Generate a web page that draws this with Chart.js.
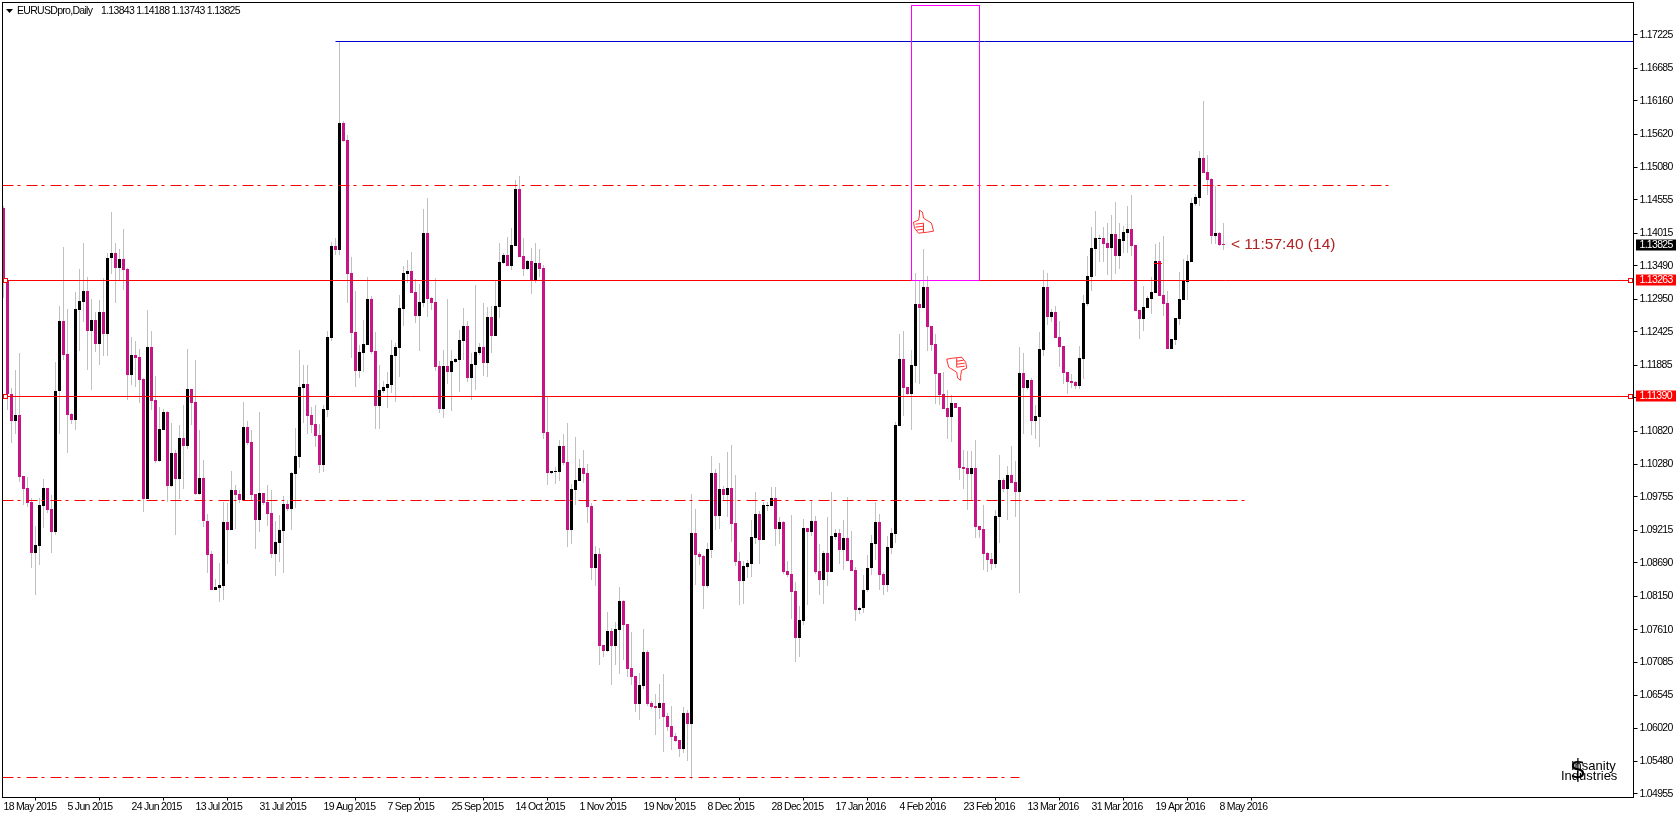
<!DOCTYPE html>
<html>
<head>
<meta charset="utf-8">
<title>EURUSDpro,Daily</title>
<script src="https://cdn.jsdelivr.net/npm/chart.js@4"></script>
<style>
html, body { margin: 0; padding: 0; background: #fff; overflow: hidden; }
canvas { display: block; }
</style>
</head>
<body>
<canvas id="grafico" width="1676" height="815"></canvas>
<script>
const opens = [
1.1442,1.1324,1.1142,1.1099,1.1108,1.1009,1.0990,1.0967,1.0885,1.0897,
1.0961,1.0990,1.0956,1.0919,1.1146,1.1260,1.1206,1.1110,1.1100,1.1278,
1.1291,1.1308,1.1244,1.1262,1.1223,1.1274,1.1239,1.1361,1.1370,1.1346,
1.1360,1.1344,1.1173,1.1205,1.1202,1.1166,1.0972,1.1218,1.1132,1.1034,
1.1084,1.1113,1.0994,1.1047,1.1005,1.1071,1.1058,1.1150,1.1129,1.0981,
1.1006,1.0937,1.0883,1.0825,1.0828,1.0832,1.0935,1.0922,1.0987,1.0980,
1.0971,1.1089,1.1064,1.0980,1.0938,1.0982,1.0967,1.0950,1.0883,1.0901,
1.0920,1.0964,1.0956,1.1013,1.1040,1.1152,1.1158,1.1108,1.1093,1.1076,
1.1027,1.1116,1.1232,1.1381,1.1375,1.1580,1.1552,1.1337,1.1242,1.1179,
1.1208,1.1221,1.1295,1.1211,1.1122,1.1147,1.1152,1.1156,1.1203,1.1216,
1.1279,1.1336,1.1341,1.1307,1.1268,1.1289,1.1402,1.1297,1.1291,1.1187,
1.1118,1.1187,1.1177,1.1194,1.1197,1.1228,1.1252,1.1168,1.1189,1.1208,
1.1218,1.1192,1.1266,1.1236,1.1283,1.1354,1.1367,1.1349,1.1381,1.1473,
1.1365,1.1344,1.1357,1.1326,1.1354,1.1346,1.1080,1.1014,1.1016,1.1016,
1.1058,1.1032,1.0922,1.0987,1.1001,1.1022,1.1014,1.0961,1.0861,1.0883,
1.0736,1.0727,1.0759,1.0735,1.0760,1.0807,1.0770,1.0699,1.0686,1.0641,
1.0670,1.0725,1.0643,1.0638,1.0634,1.0643,1.0622,1.0605,1.0589,1.0583,
1.0568,1.0626,1.0609,1.0917,1.0883,1.0880,1.0832,1.0890,1.1014,1.0945,
1.0988,1.0979,1.0990,1.0933,1.0872,1.0840,1.0862,1.0867,1.0909,1.0948,
1.0906,1.0961,1.0961,1.0974,1.0924,1.0935,1.0856,1.0851,1.0824,1.0748,
1.0775,1.0925,1.0919,1.0937,1.0856,1.0841,1.0885,1.0854,1.0911,1.0917,
1.0890,1.0909,1.0874,1.0857,1.0793,1.0796,1.0825,1.0861,1.0900,1.0935,
1.0851,1.0833,1.0893,1.0916,1.1090,1.1198,1.1153,1.1142,1.1187,1.1287,
1.1281,1.1315,1.1252,1.1223,1.1176,1.1142,1.1119,1.1105,1.1127,1.1121,
1.1024,1.1022,1.1013,1.1022,1.0929,1.0924,1.0885,1.0875,1.0867,1.0943,
1.1003,1.0988,1.1011,1.1000,1.0984,1.1176,1.1152,1.1164,1.1098,1.1105,
1.1213,1.1315,1.1266,1.1274,1.1234,1.1219,1.1177,1.1163,1.1161,1.1155,
1.1198,1.1287,1.1331,1.1376,1.1392,1.1394,1.1386,1.1378,1.1400,1.1365,
1.1389,1.1402,1.1408,1.1383,1.1278,1.1263,1.1281,1.1295,1.1305,1.1357,
1.1302,1.1289,1.1215,1.1229,1.1263,1.1294,1.1323,1.1355,1.1449,1.1459,
1.1523,1.1501,1.1489,1.1397,1.1402,1.13843
];
const highs = [
1.1446,1.1324,1.1152,1.1181,1.1208,1.1009,1.1008,1.0974,1.0929,1.0974,
1.1004,1.0990,1.0979,1.1194,1.1284,1.1379,1.1279,1.1111,1.1307,1.1344,
1.1386,1.1331,1.1295,1.1274,1.1294,1.1329,1.1370,1.1436,1.1386,1.1376,
1.1408,1.1346,1.1234,1.1228,1.1215,1.1168,1.1278,1.1244,1.1171,1.1121,
1.1118,1.1114,1.1095,1.1051,1.1092,1.1124,1.1215,1.1150,1.1197,1.1084,
1.1035,1.0948,1.0888,1.0843,1.0869,1.0968,1.0966,1.1017,1.0995,1.0987,
1.1129,1.1098,1.1084,1.0980,1.1113,1.0982,1.0995,1.0987,1.0937,1.0946,
1.0977,1.0971,1.1016,1.1087,1.1213,1.1189,1.1189,1.1121,1.1124,1.1093,
1.1124,1.1244,1.1388,1.1394,1.1712,1.1583,1.1560,1.1363,1.1308,1.1221,
1.1262,1.1331,1.1300,1.1242,1.1189,1.1163,1.1177,1.1229,1.1224,1.1302,
1.1349,1.1358,1.1371,1.1328,1.1320,1.1441,1.1459,1.1299,1.1329,1.1195,
1.1213,1.1295,1.1213,1.1200,1.1245,1.1281,1.1260,1.1208,1.1318,1.1224,
1.1289,1.1283,1.1284,1.1324,1.1386,1.1370,1.1396,1.1410,1.1488,1.1494,
1.1394,1.1358,1.1378,1.1386,1.1376,1.1350,1.1139,1.1018,1.1024,1.1068,
1.1077,1.1095,1.0996,1.1072,1.1037,1.1051,1.1029,1.0966,1.0896,1.0893,
1.0736,1.0790,1.0764,1.0773,1.0830,1.0809,1.0770,1.0757,1.0686,1.0691,
1.0762,1.0728,1.0646,1.0657,1.0673,1.0689,1.0626,1.0638,1.0594,1.0583,
1.0636,1.0631,1.0980,1.0956,1.0887,1.0882,1.0901,1.1042,1.1021,1.1030,
1.0993,1.1048,1.1059,1.1011,1.0887,1.0872,1.0874,1.0938,1.0984,1.0953,
1.0967,1.0967,1.0992,1.0992,1.0943,1.0937,1.0872,1.0946,1.0838,1.0799,
1.0940,1.0925,1.0969,1.0945,1.0900,1.0888,1.0943,1.0984,1.0924,1.0924,
1.0938,1.0975,1.0920,1.0862,1.0798,1.0849,1.0882,1.0914,1.0967,1.0948,
1.0854,1.0912,1.0925,1.1097,1.1239,1.1244,1.1153,1.1213,1.1337,1.1326,
1.1376,1.1333,1.1252,1.1239,1.1176,1.1177,1.1148,1.1140,1.1127,1.1121,
1.1051,1.1050,1.1050,1.1068,1.0929,1.0962,1.0887,1.0885,1.0954,1.1043,
1.1006,1.1026,1.1058,1.1034,1.1218,1.1208,1.1164,1.1168,1.1124,1.1242,
1.1342,1.1337,1.1279,1.1284,1.1260,1.1219,1.1177,1.1174,1.1163,1.1219,
1.1302,1.1365,1.1412,1.1438,1.1399,1.1412,1.1418,1.1431,1.1452,1.1418,
1.1413,1.1446,1.1463,1.1383,1.1278,1.1316,1.1300,1.1331,1.1384,1.1388,
1.1397,1.1308,1.1231,1.1265,1.1339,1.1360,1.1367,1.1459,1.1465,1.1535,
1.1615,1.1528,1.1491,1.1478,1.1404,1.14188
];
const lows = [
1.1297,1.1116,1.1062,1.1078,1.1000,1.0962,1.0960,1.0861,1.0817,1.0866,
1.0925,1.0950,1.0885,1.0914,1.1078,1.1197,1.1047,1.1093,1.1083,1.1212,
1.1258,1.1180,1.1148,1.1209,1.1188,1.1203,1.1203,1.1336,1.1289,1.1324,
1.1310,1.1133,1.1156,1.1153,1.1128,1.0952,1.0972,1.1116,1.1031,1.1032,
1.1084,1.0968,1.0992,1.0914,1.0972,1.0988,1.1053,1.1092,1.0979,1.0979,
1.0927,1.0853,1.0825,1.0825,1.0806,1.0809,1.0867,1.0922,1.0924,1.0966,
1.0971,1.1059,1.0971,1.0891,1.0919,1.0962,1.0929,1.0877,1.0847,1.0870,
1.0853,1.0953,1.0922,1.0958,1.1022,1.1095,1.1077,1.1079,1.1056,1.1015,
1.1016,1.1105,1.1228,1.1366,1.1366,1.1549,1.1289,1.1200,1.1153,1.1168,
1.1177,1.1221,1.1206,1.1085,1.1085,1.1144,1.1119,1.1144,1.1129,1.1169,
1.1252,1.1321,1.1305,1.1257,1.1211,1.1282,1.1266,1.1278,1.1179,1.1111,
1.1103,1.1158,1.1114,1.1192,1.1145,1.1197,1.1161,1.1132,1.1148,1.1205,
1.1171,1.1169,1.1208,1.1236,1.1265,1.1352,1.1349,1.1342,1.1381,1.1363,
1.1333,1.1342,1.1304,1.1321,1.1331,1.1069,1.0995,1.1013,1.0996,1.1001,
1.1027,1.0895,1.0900,1.0962,1.1001,1.0998,1.0933,1.0841,1.0832,1.0704,
1.0717,1.0725,1.0672,1.0704,1.0689,1.0712,1.0685,1.0672,1.0628,1.0615,
1.0665,1.0638,1.0633,1.0591,1.0617,1.0563,1.0597,1.0567,1.0580,1.0555,
1.0562,1.0549,1.0520,1.0833,1.0866,1.0795,1.0828,1.0877,1.0922,1.0924,
1.0971,1.0943,1.0903,1.0864,1.0801,1.0802,1.0845,1.0846,1.0900,1.0867,
1.0906,1.0953,1.0961,1.0896,1.0900,1.0851,1.0846,1.0778,1.0709,1.0717,
1.0769,1.0801,1.0912,1.0851,1.0817,1.0802,1.0832,1.0854,1.0906,1.0867,
1.0857,1.0872,1.0856,1.0775,1.0786,1.0788,1.0822,1.0849,1.0874,1.0825,
1.0817,1.0822,1.0883,1.0901,1.1090,1.1106,1.1140,1.1084,1.1160,1.1158,
1.1281,1.1211,1.1211,1.1126,1.1124,1.1118,1.1069,1.1064,1.1119,1.1003,
1.0988,1.0954,1.0971,1.0909,1.0909,1.0857,1.0854,1.0857,1.0861,1.0901,
1.0984,1.0938,1.0998,1.0943,1.0820,1.1077,1.1148,1.1076,1.1069,1.1056,
1.1203,1.1253,1.1258,1.1232,1.1186,1.1158,1.1142,1.1152,1.1150,1.1150,
1.1166,1.1284,1.1308,1.1332,1.1355,1.1355,1.1334,1.1326,1.1336,1.1344,
1.1370,1.1370,1.1365,1.1276,1.1231,1.1244,1.1281,1.1271,1.1305,1.1300,
1.1268,1.1215,1.1215,1.1221,1.1253,1.1294,1.1294,1.1355,1.1446,1.1446,
1.1499,1.1463,1.1384,1.1384,1.1381,1.13743
];
const closes = [
1.1325,1.1142,1.1099,1.1108,1.1008,1.0988,1.0966,1.0885,1.0898,1.0962,
1.0990,1.0955,1.0919,1.1147,1.1260,1.1205,1.1108,1.1100,1.1279,1.1292,
1.1308,1.1244,1.1262,1.1223,1.1274,1.1239,1.1362,1.1370,1.1346,1.1360,
1.1343,1.1173,1.1205,1.1200,1.1164,1.0972,1.1218,1.1131,1.1034,1.1085,
1.1113,1.0994,1.1047,1.1005,1.1071,1.1058,1.1150,1.1128,1.0981,1.1006,
1.0936,1.0882,1.0825,1.0830,1.0833,1.0935,1.0922,1.0987,1.0979,1.0971,
1.1089,1.1063,1.0979,1.0938,1.0982,1.0966,1.0948,1.0883,1.0903,1.0922,
1.0964,1.0956,1.1014,1.1042,1.1153,1.1158,1.1106,1.1092,1.1074,1.1027,
1.1118,1.1234,1.1381,1.1375,1.1580,1.1551,1.1336,1.1240,1.1179,1.1210,
1.1223,1.1295,1.1210,1.1122,1.1148,1.1153,1.1158,1.1205,1.1218,1.1281,
1.1337,1.1341,1.1305,1.1268,1.1291,1.1402,1.1295,1.1289,1.1186,1.1118,
1.1187,1.1177,1.1195,1.1198,1.1229,1.1252,1.1168,1.1190,1.1210,1.1218,
1.1192,1.1266,1.1236,1.1284,1.1355,1.1367,1.1349,1.1383,1.1473,1.1363,
1.1344,1.1357,1.1326,1.1354,1.1344,1.1079,1.1014,1.1017,1.1017,1.1058,
1.1030,1.0922,1.0988,1.1003,1.1022,1.1013,1.0959,1.0861,1.0883,1.0735,
1.0727,1.0759,1.0735,1.0762,1.0807,1.0769,1.0697,1.0685,1.0641,1.0672,
1.0725,1.0641,1.0636,1.0634,1.0643,1.0620,1.0604,1.0588,1.0581,1.0568,
1.0626,1.0609,1.0917,1.0882,1.0878,1.0832,1.0891,1.1014,1.0945,1.0988,
1.0979,1.0990,1.0932,1.0870,1.0840,1.0864,1.0869,1.0911,1.0948,1.0906,
1.0962,1.0962,1.0974,1.0924,1.0935,1.0854,1.0849,1.0822,1.0748,1.0777,
1.0925,1.0919,1.0937,1.0854,1.0841,1.0885,1.0854,1.0912,1.0917,1.0890,
1.0909,1.0872,1.0856,1.0793,1.0796,1.0825,1.0861,1.0901,1.0935,1.0849,
1.0833,1.0895,1.0917,1.1092,1.1198,1.1152,1.1142,1.1189,1.1287,1.1281,
1.1315,1.1250,1.1221,1.1174,1.1140,1.1118,1.1105,1.1127,1.1119,1.1022,
1.1021,1.1013,1.1022,1.0927,1.0922,1.0883,1.0874,1.0867,1.0945,1.1003,
1.0988,1.1011,1.0998,1.0984,1.1176,1.1152,1.1164,1.1098,1.1106,1.1215,
1.1315,1.1266,1.1274,1.1232,1.1218,1.1176,1.1161,1.1160,1.1155,1.1200,
1.1289,1.1332,1.1378,1.1394,1.1394,1.1384,1.1378,1.1400,1.1365,1.1392,
1.1404,1.1408,1.1381,1.1276,1.1263,1.1282,1.1297,1.1307,1.1357,1.1300,
1.1287,1.1215,1.1231,1.1265,1.1295,1.1324,1.1357,1.1451,1.1460,1.1523,
1.1499,1.1488,1.1397,1.1402,1.1383,1.13825
];

const tickLabels = ['18 May 2015','5 Jun 2015','24 Jun 2015','13 Jul 2015','31 Jul 2015','19 Aug 2015','7 Sep 2015','25 Sep 2015','14 Oct 2015','1 Nov 2015','19 Nov 2015','8 Dec 2015','28 Dec 2015','17 Jan 2016','4 Feb 2016','23 Feb 2016','13 Mar 2016','31 Mar 2016','19 Apr 2016','8 May 2016'];
const priceTicks = [1.17225,1.16685,1.16160,1.15620,1.15080,1.14555,1.14015,1.13490,1.12950,1.12425,1.11885,1.11360,1.10820,1.10280,1.09755,1.09215,1.08690,1.08150,1.07610,1.07085,1.06545,1.06020,1.05480,1.04955];

const lastValues = ['1.13843','1.14188','1.13743','1.13825'];
const redLevels = [1.13263, 1.11390];
const lastPrice = 1.13825;
const blueLevel = 1.17118;
const blueStart = 83;
const dashLevels = [1.14792, 1.09701, 1.05225];
const dashEnds = [347, 311, 254];
const boxBars = [226.9, 243.9];
const boxPrices = [1.17705, 1.13263];
const thumbUp = [227.5, 1.1439];
const thumbDown = [235.8, 1.1203];
const smallMark = [287.6, 289.6, 1.13536];

const totalSlots = 408;
const slots = [];
for (let i = 0; i < totalSlots; i++) {
    slots.push(i);
}

const wicks = [];
const bodies = [];
const bodyColors = [];
for (let i = 0; i < opens.length; i++) {
    wicks.push([lows[i], highs[i]]);
    bodies.push([opens[i], closes[i]]);
    bodyColors.push(closes[i] >= opens[i] ? '#000000' : '#C71585');
}

const fonteEixo = "'Liberation Sans', sans-serif";
const apertoEixo = '-0.7px';

// keeps the bars on whole pixels, like the terminal does
const snapBars = {
    id: 'snapBars',
    afterDatasetsUpdate(chart) {
        chart.data.datasets.forEach(function (ds, n) {
            chart.getDatasetMeta(n).data.forEach(function (bar) {
                bar.y = Math.round(bar.y);
                bar.base = Math.round(bar.base);
                if (bar.y === bar.base) {
                    bar.base = bar.y + 1;
                }
            });
        });
    },
    beforeDraw(chart) {
        // the axis labels are narrower than any installed font
        chart.ctx.letterSpacing = apertoEixo;
    }
};

function hand(ctx, x, y, rotated) {
    const pts = [[6,0],[9,2],[10,8],[18,13],[20,21],[14,22],[5,23],[1,18],[0,12],[5,10],[6,5]];
    ctx.save();
    ctx.translate(x, y);
    if (rotated) {
        ctx.translate(20, 24);
        ctx.rotate(Math.PI);
    }
    ctx.strokeStyle = '#FF0000';
    ctx.lineWidth = 0.8;
    ctx.beginPath();
    pts.forEach(function (p, i) {
        if (i == 0) ctx.moveTo(p[0], p[1]); else ctx.lineTo(p[0], p[1]);
    });
    ctx.closePath();
    ctx.moveTo(2, 14); ctx.lineTo(10, 13);
    ctx.moveTo(2, 17); ctx.lineTo(10, 16);
    ctx.moveTo(3, 20); ctx.lineTo(10, 19);
    ctx.moveTo(10, 13); ctx.lineTo(10, 22);
    ctx.stroke();
    ctx.restore();
}

function priceBox(ctx, right, y, text, color) {
    ctx.fillStyle = color;
    ctx.fillRect(right + 2.5, y - 6, 40, 11);
    ctx.fillStyle = '#FFFFFF';
    ctx.font = '10.5px ' + fonteEixo;
    ctx.textAlign = 'left';
    ctx.textBaseline = 'middle';
    ctx.fillText(text, right + 6, y);
}

const overlays = {
    id: 'overlays',
    afterDraw(chart) {
        const ctx = chart.ctx;
        const xs = chart.scales.x;
        const ys = chart.scales.y;
        const area = chart.chartArea;
        const rowOf = function (p) { return Math.round(ys.getPixelForValue(p)) + 0.5; };

        ctx.save();
        ctx.lineWidth = 1;

        // dash-dot levels
        ctx.strokeStyle = '#FF0000';
        ctx.setLineDash([11, 4, 3, 6]);
        dashLevels.forEach(function (lv, n) {
            ctx.beginPath();
            ctx.moveTo(area.left + 1, rowOf(lv));
            ctx.lineTo(xs.getPixelForValue(dashEnds[n]), rowOf(lv));
            ctx.stroke();
        });
        ctx.setLineDash([]);

        // blue level
        ctx.strokeStyle = '#0000CD';
        ctx.beginPath();
        ctx.moveTo(xs.getPixelForValue(blueStart), rowOf(blueLevel));
        ctx.lineTo(area.right, rowOf(blueLevel));
        ctx.stroke();

        // solid red levels with their square handles
        ctx.strokeStyle = '#FF0000';
        redLevels.forEach(function (lv) {
            ctx.beginPath();
            ctx.moveTo(area.left + 1, rowOf(lv));
            ctx.lineTo(area.right, rowOf(lv));
            ctx.stroke();
        });

        ctx.beginPath();
        ctx.moveTo(xs.getPixelForValue(smallMark[0]), rowOf(smallMark[2]));
        ctx.lineTo(xs.getPixelForValue(smallMark[1]), rowOf(smallMark[2]));
        ctx.stroke();

        // magenta rectangle
        ctx.strokeStyle = '#FF00FF';
        const bx1 = Math.round(xs.getPixelForValue(boxBars[0])) + 0.5;
        const bx2 = Math.round(xs.getPixelForValue(boxBars[1])) + 0.5;
        const by1 = rowOf(boxPrices[0]);
        const by2 = rowOf(boxPrices[1]);
        ctx.strokeRect(bx1, by1, bx2 - bx1, by2 - by1);

        hand(ctx, xs.getPixelForValue(thumbUp[0]), ys.getPixelForValue(thumbUp[1]), false);
        hand(ctx, xs.getPixelForValue(thumbDown[0]), ys.getPixelForValue(thumbDown[1]), true);

        // frame
        ctx.strokeStyle = '#000000';
        ctx.strokeRect(2.5, 2.5, area.right - 2.5, area.bottom - 2.5);

        // handles go over the frame
        ctx.strokeStyle = '#FF0000';
        ctx.fillStyle = '#FFFFFF';
        redLevels.forEach(function (lv) {
            ctx.fillRect(3.5, rowOf(lv) - 2, 4, 4);
            ctx.strokeRect(3.5, rowOf(lv) - 2, 4, 4);
            ctx.fillRect(area.right - 5, rowOf(lv) - 2, 4, 4);
            ctx.strokeRect(area.right - 5, rowOf(lv) - 2, 4, 4);
        });

        // price boxes on the axis
        priceBox(ctx, area.right, rowOf(lastPrice), lastPrice.toFixed(5), '#000000');
        redLevels.forEach(function (lv) {
            priceBox(ctx, area.right, rowOf(lv), lv.toFixed(5), '#FF0000');
        });

        // header
        ctx.fillStyle = '#000000';
        ctx.beginPath();
        ctx.moveTo(6, 9); ctx.lineTo(13, 9); ctx.lineTo(9.5, 13);
        ctx.closePath();
        ctx.fill();
        ctx.font = '10.5px ' + fonteEixo;
        ctx.textAlign = 'left';
        ctx.textBaseline = 'middle';
        ctx.fillText('EURUSDpro,Daily', 17, 11);
        ctx.fillText(lastValues.join(' '), 101, 11);

        // countdown next to the last candle
        ctx.letterSpacing = '0px';
        ctx.fillStyle = '#B22222';
        ctx.font = "15.5px 'Liberation Sans', sans-serif";
        ctx.fillText('< 11:57:40 (14)', xs.getPixelForValue(opens.length - 1) + 7.5, ys.getPixelForValue(lastPrice));

        // watermark
        ctx.fillStyle = '#000000';
        ctx.font = "26px 'DejaVu Sans', sans-serif";
        ctx.textAlign = 'center';
        ctx.fillText('$', 1578, 771);
        ctx.font = "13px 'Liberation Sans', sans-serif";
        ctx.textAlign = 'left';
        ctx.fillText('Insanity', 1571, 766);
        ctx.fillText('Industries', 1561, 776);

        ctx.restore();
    }
};

new Chart(document.getElementById('grafico'), {
    type: 'bar',
    data: {
        labels: slots,
        datasets: [{
            label: 'wicks',
            data: wicks,
            backgroundColor: '#C0C0C0',
            barThickness: 1,
            grouped: false,
            inflateAmount: 0,
            order: 2
        }, {
            label: 'bodies',
            data: bodies,
            backgroundColor: bodyColors,
            barThickness: 3,
            grouped: false,
            inflateAmount: 0,
            order: 1
        }]
    },
    options: {
        responsive: false,
        animation: false,
        devicePixelRatio: 1,
        layout: { padding: { left: 1.5, top: 2.5, right: 0, bottom: 0 } },
        plugins: {
            legend: { display: false },
            tooltip: { enabled: false }
        },
        scales: {
            x: {
                type: 'category',
                grid: { drawOnChartArea: false, drawTicks: true, tickLength: 3, color: '#000000' },
                border: { display: false },
                ticks: {
                    autoSkip: false,
                    maxRotation: 0,
                    minRotation: 0,
                    align: 'start',
                    padding: 0,
                    color: '#000000',
                    font: { family: fonteEixo, size: 10.5 },
                    callback: function (v) { return tickLabels[v / 16]; }
                },
                afterBuildTicks: function (s) {
                    s.ticks = s.ticks.filter(function (t) { return t.value % 16 == 0 && t.value / 16 < tickLabels.length; });
                },
                afterFit: function (s) {
                    s.height = 17.5;
                    s.paddingLeft = 0;
                    s.paddingRight = 0;
                }
            },
            y: {
                position: 'right',
                min: 1.04898,
                max: 1.17746,
                grid: { drawOnChartArea: false, drawTicks: true, tickLength: 4, color: '#000000' },
                border: { display: false },
                ticks: {
                    autoSkip: false,
                    padding: 2,
                    color: '#000000',
                    font: { family: fonteEixo, size: 10.5 },
                    callback: function (v) { return v.toFixed(5); }
                },
                afterBuildTicks: function (s) {
                    s.ticks = priceTicks.map(function (v) { return { value: v }; });
                },
                afterFit: function (s) {
                    s.width = 42.5;
                    s.paddingTop = 0;
                    s.paddingBottom = 0;
                }
            }
        }
    },
    plugins: [snapBars, overlays]
});
</script>
</body>
</html>
